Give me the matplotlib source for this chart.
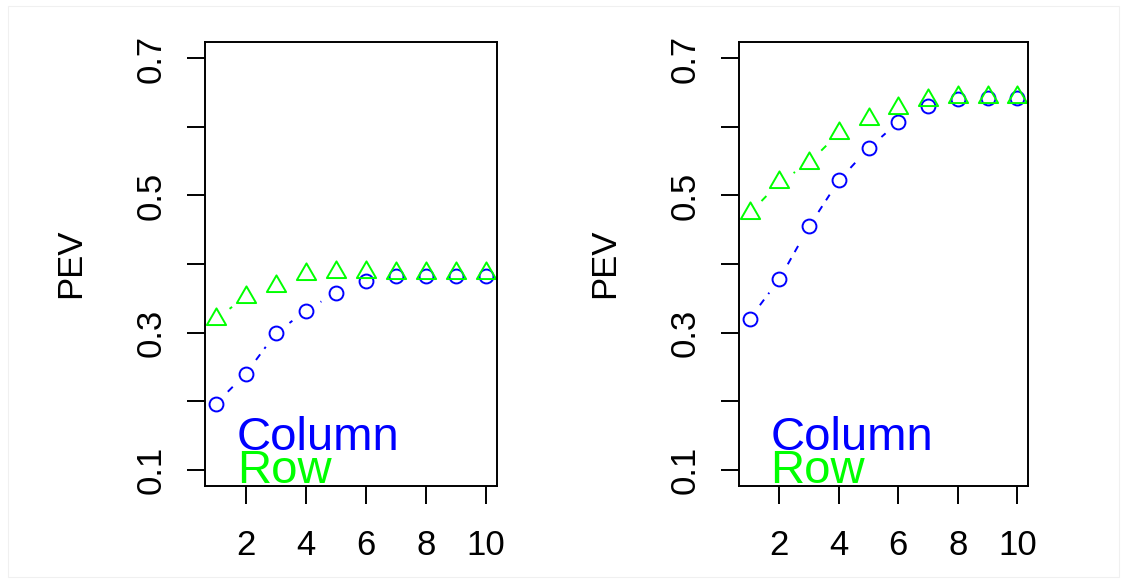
import numpy as np
import matplotlib
matplotlib.use("Agg")
import matplotlib.pyplot as plt
from matplotlib.path import Path
from matplotlib.patches import Rectangle

plt.rcParams['font.family'] = ['Liberation Sans', 'DejaVu Sans']

# ---- data ----
steps = [1, 2, 3, 4, 5, 6, 7, 8, 9, 10]
left_column = [0.196, 0.240, 0.299, 0.332, 0.358, 0.375, 0.382, 0.382, 0.382, 0.382]
left_row = [0.320, 0.352, 0.368, 0.385, 0.389, 0.389, 0.387, 0.387, 0.387, 0.387]
right_column = [0.320, 0.378, 0.455, 0.522, 0.569, 0.607, 0.630, 0.641, 0.642, 0.642]
right_row = [0.474, 0.519, 0.548, 0.591, 0.611, 0.627, 0.640, 0.643, 0.644, 0.644]
legend_labels = ["Column", "Row"]
y_ticks = [0.1, 0.2, 0.3, 0.4, 0.5, 0.6, 0.7]
y_ticklabels = ["0.1", "", "0.3", "", "0.5", "", "0.7"]
x_ticks = [2, 4, 6, 8, 10]
ylabel = "PEV"

BLUE = "#0000FF"
GREEN = "#00FF00"

W, H = 1127, 583
fig = plt.figure(figsize=(W / 100, H / 100), dpi=100)
fig.patches.append(Rectangle((8 / W, 6 / H), (1119 - 8) / W, (577 - 6) / H,
                             transform=fig.transFigure, fill=False,
                             edgecolor="#f0f0f0", lw=0.8))

tri = Path([(0, 1), (-0.866, -0.5), (0.866, -0.5), (0, 1)],
           [Path.MOVETO, Path.LINETO, Path.LINETO, Path.CLOSEPOLY])


def type_b(ax, x, y, color, gap_px=17):
    pts = ax.transData.transform(np.column_stack([x, y]))
    inv = ax.transData.inverted()
    for i in range(len(pts) - 1):
        p0, p1 = pts[i], pts[i + 1]
        d = p1 - p0
        L = np.hypot(*d)
        if L <= 2 * gap_px:
            continue
        u = d / L
        a = inv.transform(p0 + u * gap_px)
        b = inv.transform(p1 - u * gap_px)
        ax.plot([a[0], b[0]], [a[1], b[1]], color=color, lw=1.4,
                linestyle=(0, (3.6, 3.6)), dash_capstyle='butt')


def panel(left_px, right_px, col, row, ylabel_px):
    ax = fig.add_axes([left_px / W, (H - 486) / H, (right_px - left_px) / W, 444 / H])
    ax.set_xlim(0.64, 10.36)
    ax.set_ylim(0.076, 0.724)
    type_b(ax, steps, col, BLUE)
    type_b(ax, steps, row, GREEN)
    ax.plot(steps, col, linestyle='none', marker='o', ms=10, mfc='none',
            mec=BLUE, mew=1.4)
    ax.plot(steps, row, linestyle='none', marker=tri, ms=16, mfc='none',
            mec=GREEN, mew=1.4)
    ax.set_xticks(x_ticks)
    ax.set_xticklabels([str(t) for t in x_ticks])
    ax.set_yticks(y_ticks)
    ax.set_yticklabels(y_ticklabels, rotation=90, va='center')
    ax.tick_params(axis='both', length=13, width=1.4, labelsize=25,
                   direction='out', color='black')
    ax.tick_params(axis='x', pad=18)
    ax.tick_params(axis='y', pad=14)
    for s in ax.spines.values():
        s.set_linewidth(1.4)
    ax.text((ylabel_px - left_px) / (right_px - left_px), 0.502, ylabel,
            transform=ax.transAxes, rotation=90,
            ha='center', va='center', fontsize=25)
    ax.text(1.70, 0.129, legend_labels[0], color=BLUE, fontsize=34, va='baseline')
    ax.text(1.70, 0.081, legend_labels[1], color=GREEN, fontsize=34, va='baseline')
    return ax


panel(205, 497, left_column, left_row, 71)
panel(739, 1028, right_column, right_row, 605)

fig.savefig("out.png", dpi=100)
